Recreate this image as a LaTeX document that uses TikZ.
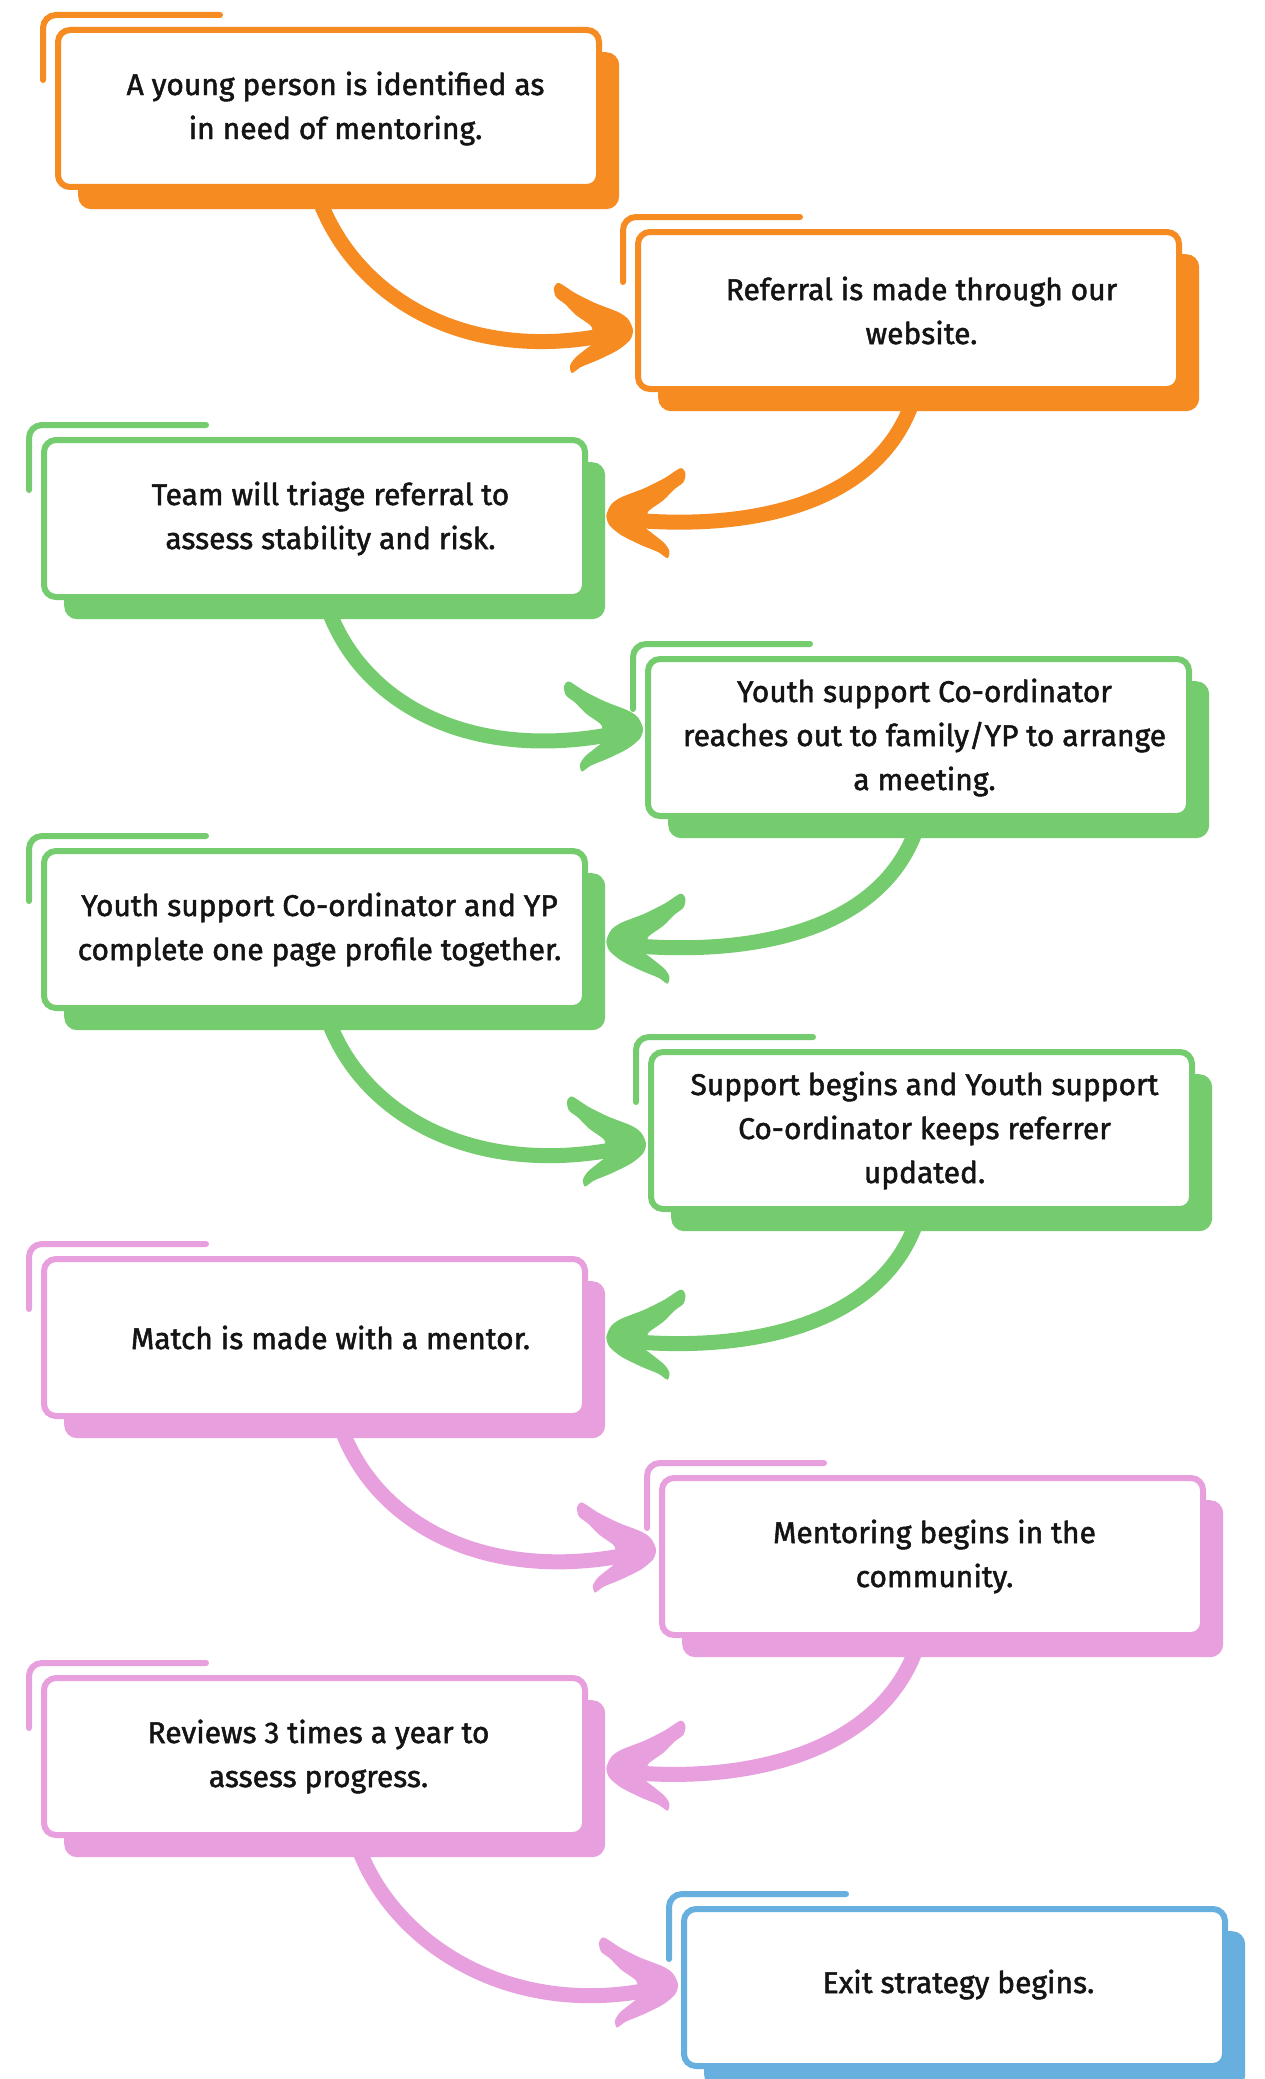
\documentclass[tikz,border=0pt]{standalone}
\usepackage{fontspec}
\setmainfont{Fira Sans}
\newfontfamily\boxfont{Fira Sans}[FakeBold=1.6]
\usetikzlibrary{calc}
\definecolor{cor}{HTML}{F68B22}
\definecolor{cgr}{HTML}{75CC6E}
\definecolor{cpk}{HTML}{E79FDE}
\definecolor{cbl}{HTML}{66AFDF}
\definecolor{ctx}{HTML}{141414}
\pgfdeclarelayer{back}
\pgfsetlayers{back,main}
\tikzset{
  boxframe/.style={draw, line width=6pt, rounded corners=12pt, fill=white, minimum width=541pt, minimum height=157pt, inner sep=0pt, anchor=north west},
  boxshadow/.style={rounded corners=13pt, minimum width=541pt, minimum height=157pt, inner sep=0pt, anchor=north west},
  bracketline/.style={line width=6pt, line cap=round, rounded corners=13pt},
  boxtext/.style={align=center, text=ctx, inner sep=0pt, font=\boxfont\fontsize{30}{44}\selectfont},
  arrowbody/.style={line width=15pt},
}
% #1 name, #2 L, #3 T, #4 colour, #5 text dx, #6 text dy, #7 text
\newcommand\flowbox[7]{%
  \draw[bracketline, #4] (#2-9,#3+56) -- (#2-9,#3-9) -- (#2+168,#3-9);
  \node[boxshadow, fill=#4] (s#1) at (#2+26,#3+28) {};
  \node[boxframe, draw=#4] (b#1) at (#2+3,#3+3) {};
  \node[boxtext] (t#1) at ($(b#1.center)+(#5,#6)$) {#7};
}
% head of a hand-drawn arrow, pointing right, front at the origin
\newcommand\headshape[1]{%
  \fill[#1] plot[smooth cycle, tension=0.45] coordinates {
    (2,0) (-1,10) (-13,20) (-33,30) (-50,37) (-59,43) (-61,36) (-56,28)
    (-45,19) (-34,10) (-38,5) (-40,-4) (-55,-15) (-66,-26) (-75,-33)
    (-77,-42) (-72,-47) (-56,-37) (-36,-27) (-13,-18) (-3,-11)};
}
% left-to-right arrow: #1 colour, #2 start, #3 front
\newcommand\rarrow[3]{%
  \draw[arrowbody,#1] (#2) .. controls +(38,92) and +(-140,28) .. ($(#3)+(-25,5)$);
  \begin{scope}[shift={(#3)}]
    \headshape{#1}
  \end{scope}
}
% right-to-left arrow
\newcommand\larrow[3]{%
  \draw[arrowbody,#1] (#2) .. controls +(-38,95) and +(120,10) .. ($(#3)+(25,5)$);
  \begin{scope}[shift={(#3)}, xscale=-1]
    \headshape{#1}
  \end{scope}
}
\begin{document}
\begin{tikzpicture}[x=1pt,y=-1pt]
\useasboundingbox (0,0) rectangle (1264,2079);
\clip (0,0) rectangle (1264,2079);

\flowbox{1}{52}{24}{cor}{7}{0}{A young person is identified as\\in need of mentoring.}
\flowbox{2}{632}{226}{cor}{13}{0}{Referral is made through our\\website.}
\flowbox{3}{38}{434}{cgr}{16}{0}{Team will triage referral to\\assess stability and risk.}
\flowbox{4}{642}{653}{cgr}{6}{0}{Youth support Co-ordinator\\reaches out to family/YP to arrange\\a meeting.}
\flowbox{5}{38}{845}{cgr}{5}{0}{Youth support Co-ordinator and YP\\complete one page profile together.}
\flowbox{6}{645}{1046}{cgr}{3}{0}{Support begins and Youth support\\Co-ordinator keeps referrer\\updated.}
\flowbox{7}{38}{1253}{cpk}{16}{0}{Match is made with a mentor.}
\flowbox{8}{656}{1472}{cpk}{2}{0}{Mentoring begins in the\\community.}
\flowbox{9}{38}{1672}{cpk}{4}{0}{Reviews 3 times a year to\\assess progress.}
\flowbox{10}{678}{1903}{cbl}{4}{-3}{Exit strategy begins.}

\begin{pgfonlayer}{back}
\fill[white] (0,0) rectangle (1264,2079);
\coordinate (a1s) at ($(s1.south west)+(244,-3)$);
\coordinate (a1t) at ($(b2.west)+(-4,19.5)$);
\rarrow{cor}{a1s}{a1t}
\coordinate (a2s) at ($(s2.south west)+(252,-3)$);
\coordinate (a2t) at ($(s3.east)+(3,-25.5)$);
\larrow{cor}{a2s}{a2t}
\coordinate (a3s) at ($(s3.south west)+(267,-3)$);
\coordinate (a3t) at ($(b4.west)+(-4,-9)$);
\rarrow{cgr}{a3s}{a3t}
\coordinate (a4s) at ($(s4.south west)+(246,-3)$);
\coordinate (a4t) at ($(s5.east)+(3,-11)$);
\larrow{cgr}{a4s}{a4t}
\coordinate (a5s) at ($(s5.south west)+(267,-3)$);
\coordinate (a5t) at ($(b6.west)+(-4,13)$);
\rarrow{cgr}{a5s}{a5t}
\coordinate (a6s) at ($(s6.south west)+(243,-3)$);
\coordinate (a6t) at ($(s7.east)+(3,-23)$);
\larrow{cgr}{a6s}{a6t}
\coordinate (a7s) at ($(s7.south west)+(280,-3)$);
\coordinate (a7t) at ($(b8.west)+(-5,-7)$);
\rarrow{cpk}{a7s}{a7t}
\coordinate (a8s) at ($(s8.south west)+(232,-3)$);
\coordinate (a8t) at ($(s9.east)+(3,-11)$);
\larrow{cpk}{a8s}{a8t}
\coordinate (a9s) at ($(s9.south west)+(297,-3)$);
\coordinate (a9t) at ($(b10.west)+(-5,-3)$);
\rarrow{cpk}{a9s}{a9t}
\end{pgfonlayer}
\end{tikzpicture}
\end{document}
